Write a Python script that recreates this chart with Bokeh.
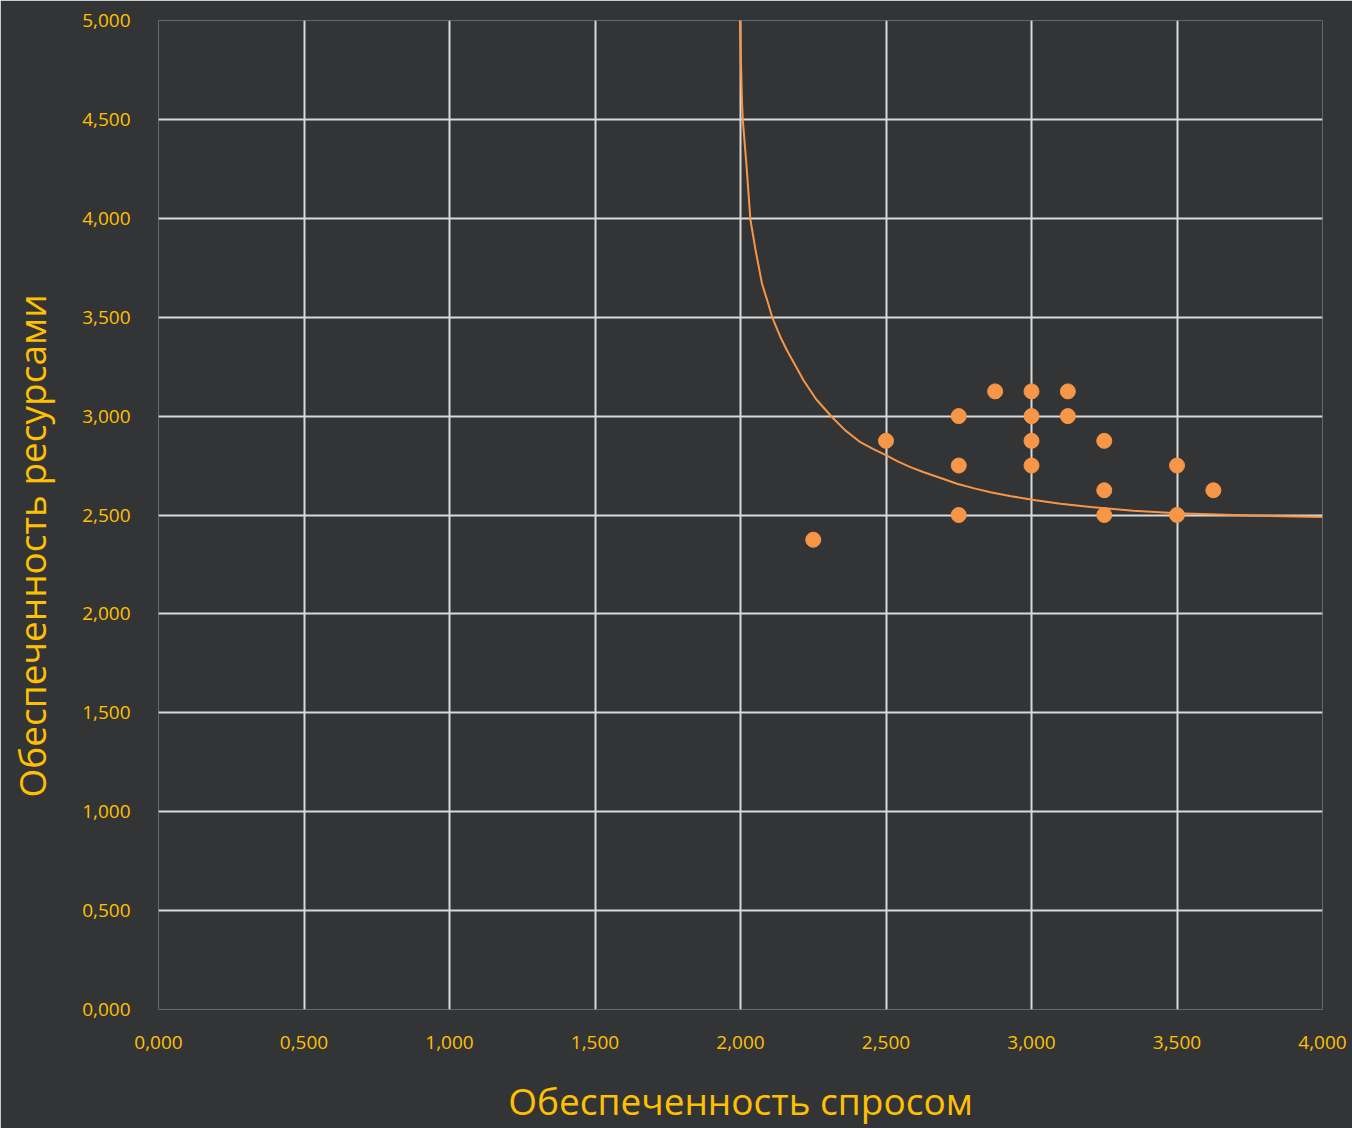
from bokeh.plotting import figure
from bokeh.models import FixedTicker, Title
from bokeh.embed import file_html
from bokeh.resources import INLINE

# Observed points
pts_x = [2.25, 2.5, 2.75, 2.75, 2.75, 2.875, 3.0, 3.0, 3.0, 3.0, 3.125, 3.125,
         3.25, 3.25, 3.25, 3.5, 3.5, 3.625]
pts_y = [2.375, 2.875, 3.0, 2.75, 2.5, 3.125, 3.125, 3.0, 2.875, 2.75, 3.125, 3.0,
         2.875, 2.625, 2.5, 2.75, 2.5, 2.625]

# Fitted curve
curve_x = [1.998, 2.005, 2.008, 2.021, 2.034, 2.052, 2.074, 2.092, 2.110, 2.137, 2.160,
           2.190, 2.217, 2.260, 2.315, 2.360, 2.412, 2.455, 2.498, 2.540, 2.584, 2.630,
           2.690, 2.744, 2.800, 2.859, 2.930, 3.002, 3.100, 3.203, 3.350, 3.500, 3.750, 4.000]
curve_y = [5.0, 4.595, 4.495, 4.259, 3.994, 3.837, 3.669, 3.584, 3.495, 3.400, 3.332,
           3.252, 3.180, 3.085, 2.994, 2.928, 2.868, 2.834, 2.804, 2.771, 2.742, 2.716,
           2.686, 2.658, 2.636, 2.615, 2.595, 2.577, 2.557, 2.540, 2.522, 2.509, 2.497, 2.490]

tick_vals_x = [0, 0.5, 1, 1.5, 2, 2.5, 3, 3.5, 4]
tick_labels_x = ["0,000", "0,500", "1,000", "1,500", "2,000", "2,500", "3,000", "3,500", "4,000"]
tick_vals_y = [0, 0.5, 1, 1.5, 2, 2.5, 3, 3.5, 4, 4.5, 5]
tick_labels_y = ["0,000", "0,500", "1,000", "1,500", "2,000", "2,500", "3,000", "3,500",
                 "4,000", "4,500", "5,000"]

x_title = "Обеспеченность спросом"
y_title = "Обеспеченность ресурсами"

BG = "#333436"
GOLD = "#FFC000"
ORANGE = "#F79646"
GRID = "#D9D9D9"
FONT = "Open Sans"

p = figure(width=1352, height=1128, x_range=(0, 4), y_range=(0, 5),
           output_backend="svg", toolbar_location=None,
           min_border_left=158, min_border_right=30, min_border_top=20, min_border_bottom=119)
p.background_fill_color = BG
p.border_fill_color = BG
p.outline_line_color = None

p.xaxis.ticker = FixedTicker(ticks=tick_vals_x)
p.yaxis.ticker = FixedTicker(ticks=tick_vals_y)
p.xaxis.major_label_overrides = {v: l for v, l in zip(tick_vals_x, tick_labels_x)}
p.yaxis.major_label_overrides = {v: l for v, l in zip(tick_vals_y, tick_labels_y)}

for ax in (p.xaxis, p.yaxis):
    ax.axis_line_color = None
    ax.major_tick_line_color = None
    ax.minor_tick_line_color = None
    ax.major_label_text_color = GOLD
    ax.major_label_text_font = FONT
    ax.major_label_text_font_size = "19px"
    ax.axis_label_text_color = GOLD
    ax.axis_label_text_font = FONT
    ax.axis_label_text_font_style = "normal"
    ax.axis_label_text_font_size = "37px"

p.xaxis.major_label_standoff = 20
p.yaxis.major_label_standoff = 22
p.xaxis.axis_label = x_title
p.xaxis.axis_label_standoff = 23

# narrow spacer between the y tick labels and the y title
spacer = Title(text="\u00a0", text_font_size="17px", standoff=0, text_color=BG)
p.add_layout(spacer, "left")

ytitle = Title(text=y_title, align="left", offset=212, text_color=GOLD,
               text_font=FONT, text_font_size="37px", text_font_style="normal",
               vertical_align="top", standoff=0)
p.add_layout(ytitle, "left")

p.grid.grid_line_color = GRID
p.grid.grid_line_width = 2
p.grid.grid_line_alpha = 1.0

p.line(curve_x, curve_y, line_color=ORANGE, line_width=2)
p.scatter(pts_x, pts_y, size=15, fill_color=ORANGE, line_color=ORANGE)

open("out.html", "w").write(file_html(p, INLINE))
